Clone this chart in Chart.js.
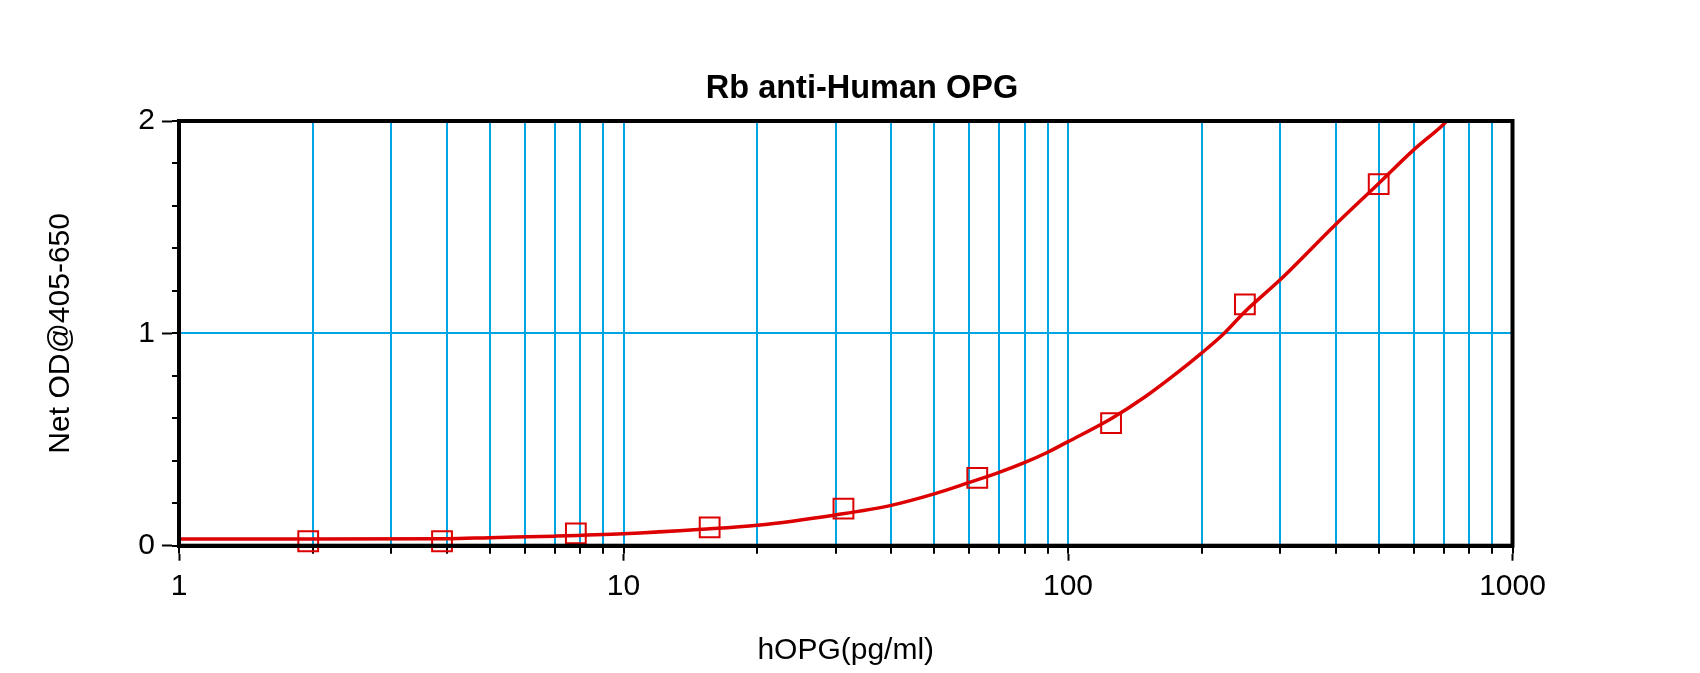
<!DOCTYPE html>
<html>
<head>
<meta charset="utf-8">
<script src="https://cdn.jsdelivr.net/npm/chart.js@4/dist/chart.umd.min.js"></script>
<style>
  html, body { margin: 0; padding: 0; background: #ffffff; }
  #wrap { width: 1700px; height: 673px; }
</style>
</head>
<body>
<div id="wrap"><canvas id="c" width="1700" height="673"></canvas></div>
<script>
// ---- data ----
const chartTitle = 'Rb anti-Human OPG';
const xAxisTitle = 'hOPG(pg/ml)';
const yAxisTitle = 'Net OD@405-650';

// standards (concentration, pg/ml) and measured OD
const stdConc = [1.953, 3.906, 7.8125, 15.625, 31.25, 62.5, 125, 250, 500];
const stdOD   = [0.021, 0.021, 0.058, 0.086, 0.175, 0.319, 0.577, 1.136, 1.703];

// fitted curve
const curveConc = [1, 2, 4, 5, 7, 10, 15, 20, 30, 40, 50, 60, 70, 80, 90, 100, 125, 150, 175, 200, 225, 250, 300, 400, 500, 600, 700, 711];
const curveOD   = [0.031, 0.031, 0.033, 0.038, 0.045, 0.056, 0.077, 0.096, 0.145, 0.190, 0.244, 0.298, 0.345, 0.392, 0.440, 0.490, 0.598, 0.705, 0.810, 0.908, 1.002, 1.102, 1.252, 1.513, 1.706, 1.865, 1.985, 2.000];

// axis ticks
const xTicks = [1,2,3,4,5,6,7,8,9,10,20,30,40,50,60,70,80,90,100,200,300,400,500,600,700,800,900,1000];
const xMajorTicks = [1, 10, 100, 1000];
const yTicks = [0, 0.2, 0.4, 0.6, 0.8, 1, 1.2, 1.4, 1.6, 1.8, 2];
const yMajorTicks = [0, 1, 2];
const yGridAt = [1];

// ---- styling ----
const RED = '#dc0000';
const BLUE = '#00a5e3';
const FONT = "'Liberation Sans', Arial, sans-serif";
Chart.defaults.font.family = FONT;
Chart.defaults.color = '#000';

const frame = {
  id: 'frame',
  afterDatasetsDraw(chart) {
    const a = chart.chartArea, ctx = chart.ctx;
    ctx.save();
    ctx.strokeStyle = '#000';
    ctx.lineWidth = 4;
    ctx.strokeRect(a.left, a.top, a.right - a.left, a.bottom - a.top);
    ctx.restore();
  }
};
const titleShift = {
  id: 'titleShift',
  afterLayout(chart) {
    const t = chart.titleBlock;
    if (t) {
      const d = 862 - (t.left + t.right) / 2;
      t.left += d; t.right += d;
    }
  }
};

const curvePts = curveConc.map((x, i) => ({ x: x, y: curveOD[i] }));
const stdPts = stdConc.map((x, i) => ({ x: x, y: stdOD[i] }));

new Chart(document.getElementById('c'), {
  type: 'scatter',
  data: {
    datasets: [
      {
        label: 'Standards',
        data: stdPts,
        showLine: false,
        pointStyle: 'rect',
        pointRadius: 14,
        pointHoverRadius: 14,
        borderColor: RED,
        backgroundColor: 'rgba(0,0,0,0)',
        borderWidth: 2,
        clip: false,
        xAxisID: 'x', yAxisID: 'y'
      },
      {
        label: 'Fit',
        data: curvePts,
        showLine: true,
        pointRadius: 0,
        borderColor: RED,
        borderWidth: 3.5,
        cubicInterpolationMode: 'monotone',
        fill: false,
        xAxisID: 'x', yAxisID: 'y'
      }
    ]
  },
  options: {
    responsive: false,
    animation: false,
    events: [],
    layout: { padding: { left: 0, right: 187.5, top: 0, bottom: 0 } },
    plugins: {
      legend: { display: false },
      tooltip: { enabled: false },
      title: {
        display: true,
        text: chartTitle,
        color: '#000',
        font: { size: 32.5, weight: 'bold', family: FONT },
        padding: { top: 70, bottom: 12 }
      }
    },
    scales: {
      x: {
        type: 'logarithmic',
        position: 'bottom',
        weight: 0,
        min: 1, max: 1000,
        afterBuildTicks: s => { s.ticks = xTicks.map(v => ({ value: v })); },
        afterFit: s => { s.height = 8; },
        ticks: { display: false, autoSkip: false },
        grid: { color: BLUE, lineWidth: 2, drawTicks: true, tickLength: 8, tickColor: '#000', tickWidth: 2 },
        border: { display: true, color: '#000', width: 4 }
      },
      x2: {
        type: 'logarithmic',
        position: 'bottom',
        weight: 1,
        min: 1, max: 1000,
        afterBuildTicks: s => { s.ticks = xMajorTicks.map(v => ({ value: v })); },
        afterFit: s => { s.height = 119.3; },
        ticks: {
          autoSkip: false, maxRotation: 0, padding: 8.5,
          color: '#000', font: { size: 30, family: FONT },
          callback: v => String(v)
        },
        grid: { drawOnChartArea: false, tickLength: 7, tickColor: '#000', tickWidth: 2 },
        border: { display: false },
        title: {
          display: true, text: xAxisTitle, color: '#000',
          font: { size: 30, family: FONT },
          padding: { top: 0, bottom: 4 }
        }
      },
      y: {
        type: 'linear',
        position: 'left',
        weight: 0,
        min: 0, max: 2,
        afterBuildTicks: s => { s.ticks = yTicks.map(v => ({ value: v })); },
        afterFit: s => { s.width = 7; },
        ticks: { display: false, autoSkip: false },
        grid: {
          color: ctx => (ctx.tick && yGridAt.includes(ctx.tick.value)) ? BLUE : 'rgba(0,0,0,0)',
          lineWidth: 2, tickLength: 7, tickColor: '#000', tickWidth: 2
        },
        border: { display: true, color: '#000', width: 4 }
      },
      y2: {
        type: 'linear',
        position: 'left',
        weight: 1,
        min: 0, max: 2,
        afterBuildTicks: s => { s.ticks = yMajorTicks.map(v => ({ value: v })); },
        afterFit: s => { s.width = 172; },
        ticks: {
          autoSkip: false, padding: 7, color: '#000',
          font: { size: 30, family: FONT },
          callback: v => String(v)
        },
        grid: { drawOnChartArea: false, tickLength: 10, tickColor: '#000', tickWidth: 2 },
        border: { display: false },
        title: {
          display: true, text: yAxisTitle, color: '#000',
          font: { size: 30, family: FONT },
          padding: { top: 43, bottom: 0 }
        }
      }
    }
  },
  plugins: [frame, titleShift]
});
</script>
</body>
</html>
